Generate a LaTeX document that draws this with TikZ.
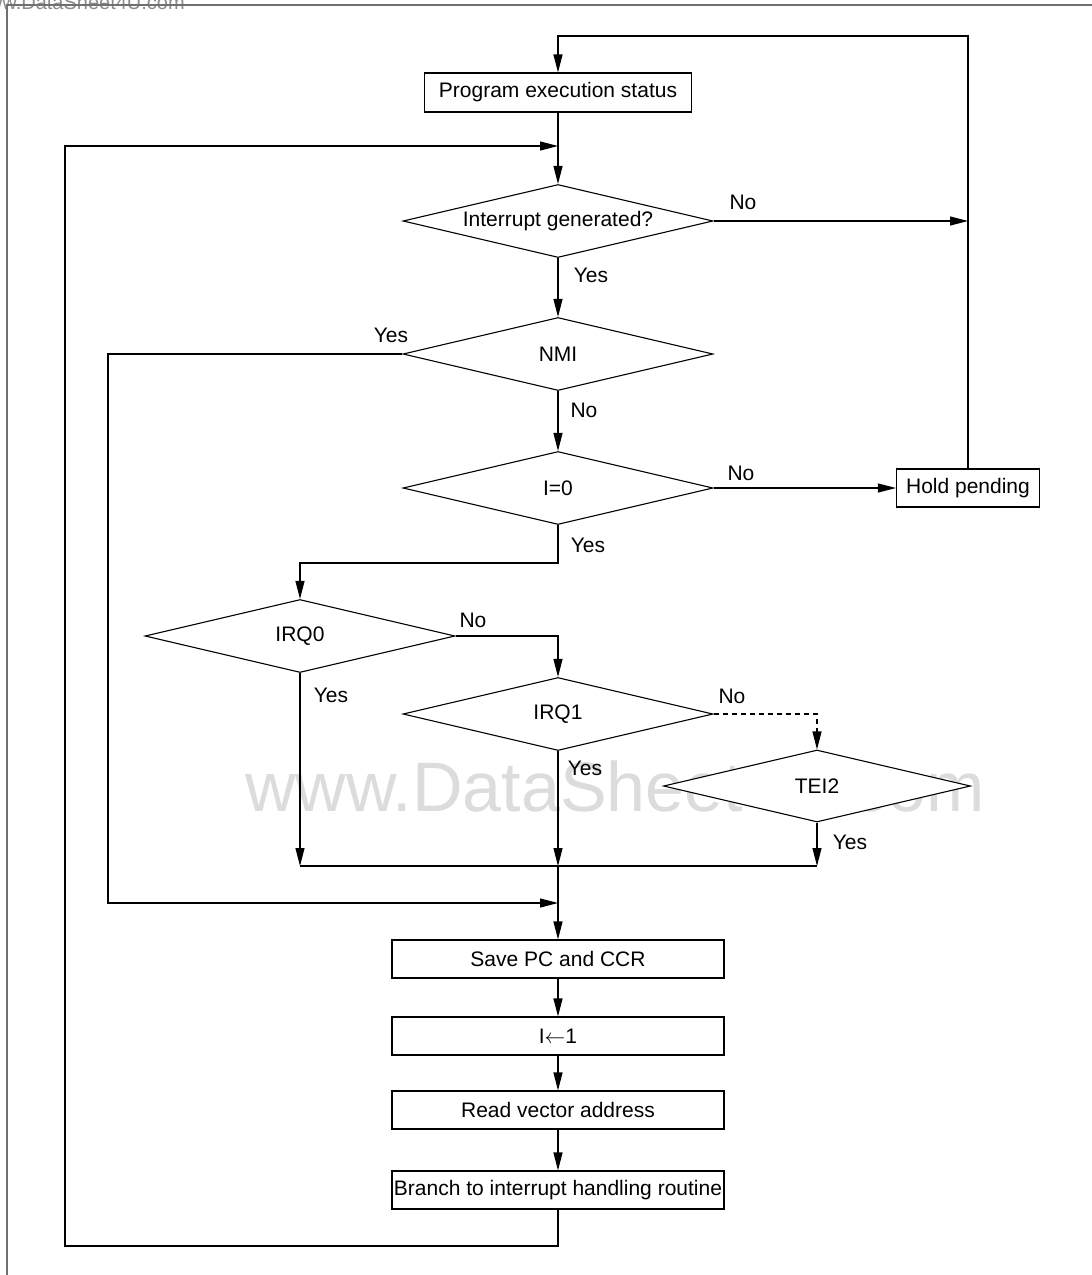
\documentclass[tikz,border=0pt]{standalone}
\usepackage{fontspec}
\setmainfont{Liberation Sans}
\usetikzlibrary{shapes.geometric,arrows.meta}
\definecolor{framecol}{RGB}{112,112,112}
\definecolor{wmcol}{RGB}{220,220,220}
\definecolor{wmtop}{RGB}{140,140,140}
\begin{document}
\begin{tikzpicture}[x=1pt,y=-1pt,
  every node/.style={font=\fontsize{21}{25}\selectfont},
  box/.style={draw, line width=1.1pt, fill=white, minimum height=38pt, inner sep=0pt},
  dec/.style={diamond, draw, line width=1.1pt, fill=white, minimum width=310pt, minimum height=73pt, inner sep=0pt, aspect=4.25},
  ln/.style={line width=1.1pt},
  arr/.style={ln, -{Triangle[length=18pt,width=9pt]}},
  lbl/.style={inner sep=0pt}
]
\useasboundingbox[fill=white] (0,0) rectangle (1092,1275);
% watermarks
\node[anchor=base west, font=\fontsize{70}{78}\selectfont, text=wmcol, inner sep=0pt] (wm) at (245,811) {www.DataSheet4U.com};
\begin{scope}
\clip (0,0) rectangle (1092,1275);
\node[anchor=base east, font=\fontsize{20}{24}\selectfont, text=wmtop, inner sep=0pt] (wm2) at (185,9) {www.DataSheet4U.com};
\end{scope}
% frame
\draw[line width=2pt, framecol] (1092,5) -- (7,5) -- (7,1275);

% nodes
\node[box, minimum width=267pt, minimum height=39pt] (pes) at (558,92.5) {Program execution status};
\node[dec] (d1) at (558,221) {Interrupt generated?};
\node[dec] (d2) at (558,354) {NMI};
\node[dec] (d3) at (558,488) {I=0};
\node[box, minimum width=143pt] (hold) at (968,488) {Hold pending};
\node[dec] (d4) at (300,636) {IRQ0};
\node[dec] (d5) at (558,714) {IRQ1};
\node[dec, minimum width=307pt, minimum height=72pt] (d6) at (817,786) {TEI2};
\node[box, minimum width=332pt] (b1) at (558,959) {Save PC and CCR};
\node[box, minimum width=332pt] (b2) at (558,1036) {I\(\leftarrow\)1};
\node[box, minimum width=332pt] (b3) at (558,1110) {Read vector address};
\node[box, minimum width=332pt] (b4) at (558,1190) {Branch to interrupt handling routine};

% coordinates
\coordinate (tl) at (558,36);
\coordinate (tr) at (968,36);
\coordinate (m1) at (558,146);
\coordinate (lb) at (65,1246);
\coordinate (lt) at (65,146);
\coordinate (bb) at (558,1246);
\coordinate (nohit) at (968,221);
\coordinate (nl) at (108,354);
\coordinate (nb) at (108,903);
\coordinate (m2) at (558,903);
\coordinate (ys) at (558,563);
\coordinate (jl) at (300,866);
\coordinate (jm) at (558,866);
\coordinate (jr) at (817,866);

% connectors
\draw[arr] (hold.north) -- (tr) -- (tl) -- (pes.north);
\draw[arr] (pes.south) -- (d1.north);
\draw[arr] (b4.south) -- (bb) -- (lb) -- (lt) -- (m1);
\draw[arr] (d1.east) -- (nohit);
\draw[arr] (d1.south) -- (d2.north);
\draw[arr] (d2.west) -- (nl) -- (nb) -- (m2);
\draw[arr] (d2.south) -- (d3.north);
\draw[arr] (d3.east) -- (hold.west);
\draw[arr] (d3.south) -- (ys) -| (d4.north);
\draw[arr] (d4.east) -| (d5.north);
\draw[arr] (d4.south) -- (jl);
\draw[arr] (d5.south) -- (jm);
\draw[arr, dash pattern=on 5pt off 4pt] (d5.east) -| (d6.north);
\draw[arr] (d6.south) -- (jr);
\draw[ln] (jl) -- (jr);
\draw[arr] (jm) -- (b1.north);
\draw[arr] (b1.south) -- (b2.north);
\draw[arr] (b2.south) -- (b3.north);
\draw[arr] (b3.south) -- (b4.north);

% labels
\node[lbl] (l1) at (743,202) {No};
\node[lbl] (l2) at (591,275) {Yes};
\node[lbl] (l3) at (391,335) {Yes};
\node[lbl] (l4) at (584,410) {No};
\node[lbl] (l5) at (741,473) {No};
\node[lbl] (l6) at (588,545) {Yes};
\node[lbl] (l7) at (473,620) {No};
\node[lbl] (l8) at (331,695) {Yes};
\node[lbl] (l9) at (732,696) {No};
\node[lbl] (l10) at (585,768) {Yes};
\node[lbl] (l11) at (850,842) {Yes};
\end{tikzpicture}
\end{document}
